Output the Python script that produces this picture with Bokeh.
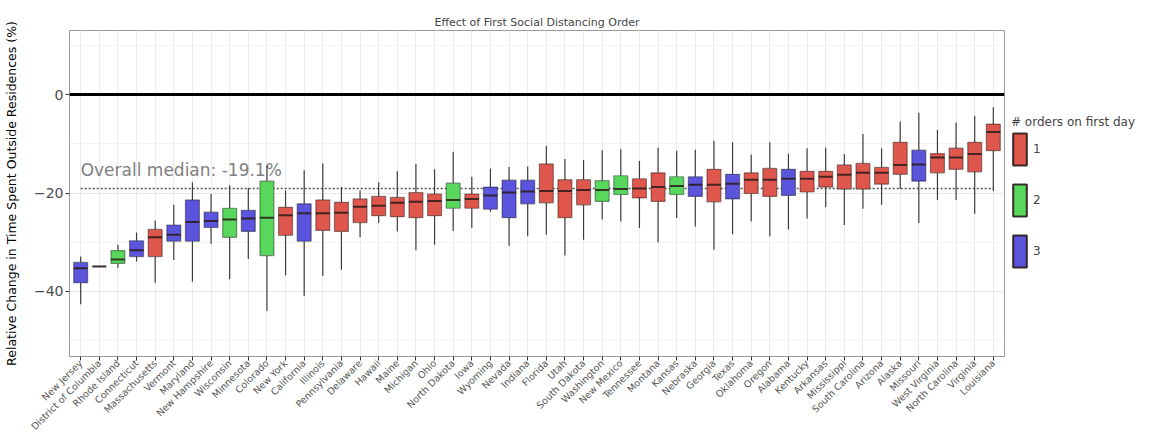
from math import pi
from bokeh.plotting import figure
from bokeh.models import (ColumnDataSource, FactorRange, Range1d, Span, Legend, LegendItem,
                          FixedTicker, Title)
from bokeh.core.properties import value
from bokeh.embed import file_html
from bokeh.resources import INLINE

FONT = "DejaVu Sans"

states = ["New Jersey", "District of Columbia", "Rhode Island", "Connecticut", "Massachusetts",
          "Vermont", "Maryland", "New Hampshire", "Wisconsin", "Minnesota", "Colorado",
          "New York", "California", "Illinois", "Pennsylvania", "Delaware", "Hawaii", "Maine",
          "Michigan", "Ohio", "North Dakota", "Iowa", "Wyoming", "Nevada", "Indiana", "Florida",
          "Utah", "South Dakota", "Washington", "New Mexico", "Tennessee", "Montana", "Kansas",
          "Nebraska", "Georgia", "Texas", "Oklahoma", "Oregon", "Alabama", "Kentucky",
          "Arkansas", "Mississippi", "South Carolina", "Arizona", "Alaska", "Missouri",
          "West Virginia", "North Carolina", "Virginia", "Louisiana"]

orders = ["3", "1", "2", "3", "1", "3", "3", "3", "2", "3", "2", "1", "3", "1", "1", "1", "1", "1",
          "1", "1", "2", "1", "3", "3", "3", "1", "1", "1", "2", "2", "1", "1", "2", "3", "1", "3",
          "1", "1", "3", "1", "1", "1", "1", "1", "1", "3", "1", "1", "1", "1"]

whisker_low = [-42.6, -34.9, -35.2, -33.9, -38.2, -33.6, -38.0, -30.3, -37.5, -33.4, -43.9,
               -36.7, -40.9, -36.8, -35.6, -29.0, -26.1, -27.8, -31.6, -30.5, -27.7, -27.1,
               -23.8, -30.7, -28.8, -28.5, -32.7, -29.5, -25.4, -25.8, -27.1, -30.0, -25.1,
               -26.8, -31.5, -28.4, -25.8, -28.8, -27.4, -25.2, -22.9, -26.5, -23.2, -22.4,
               -19.2, -26.1, -21.4, -21.4, -24.2, -19.6]
q1 = [-38.2, -34.9, -34.3, -32.9, -32.9, -29.8, -29.8, -27.0, -29.0, -27.8, -32.7,
      -28.6, -29.8, -27.6, -27.8, -26.0, -24.6, -24.8, -25.0, -24.6, -23.1, -23.1,
      -23.3, -25.0, -22.2, -22.0, -25.0, -22.4, -21.7, -20.3, -21.0, -21.7, -20.3,
      -20.7, -21.8, -21.2, -20.1, -20.7, -20.5, -19.8, -18.8, -19.2, -19.2, -18.2,
      -16.2, -17.6, -15.9, -15.2, -15.7, -11.4]
median = [-35.3, -34.9, -33.5, -31.6, -29.0, -28.5, -25.9, -25.7, -25.4, -25.2, -25.0,
          -24.5, -24.1, -24.1, -24.0, -22.8, -22.6, -22.0, -21.8, -21.6, -21.4, -21.2,
          -20.5, -19.9, -19.7, -19.6, -19.6, -19.4, -19.4, -19.2, -19.1, -18.8, -18.6,
          -18.3, -18.3, -18.1, -17.3, -17.3, -17.1, -17.1, -16.7, -16.3, -15.9, -15.9,
          -14.3, -14.2, -12.8, -12.8, -12.1, -7.6]
q3 = [-34.1, -34.9, -31.7, -29.7, -27.4, -26.5, -21.4, -23.9, -23.1, -23.5, -17.6,
      -22.9, -22.2, -21.4, -21.9, -21.2, -20.7, -20.9, -19.9, -20.2, -18.0, -20.2,
      -18.8, -17.4, -17.4, -14.1, -17.3, -17.3, -17.5, -16.5, -17.1, -15.9, -16.7,
      -16.7, -15.2, -16.2, -15.9, -15.0, -15.2, -15.6, -15.6, -14.3, -14.0, -14.8,
      -9.7, -11.3, -12.0, -10.9, -9.7, -6.0]
whisker_high = [-32.9, -34.9, -30.5, -28.0, -25.6, -22.4, -17.8, -20.2, -18.4, -19.0, -14.4,
                -19.5, -15.4, -14.0, -18.8, -19.5, -17.8, -15.6, -14.1, -15.2, -11.6, -16.7,
                -15.0, -14.7, -14.6, -10.4, -13.1, -13.3, -11.3, -11.1, -13.5, -10.8, -11.4,
                -11.2, -9.4, -9.7, -12.2, -9.7, -12.0, -10.9, -10.8, -12.1, -8.0, -10.9,
                -5.5, -3.7, -7.2, -5.7, -4.3, -2.6]

overall_median = -19.1
order_levels = ["1", "2", "3"]
order_colors = ["#DF574C", "#57D75C", "#5B54DC"]
y_ticks = [-40, -20, 0]
y_tick_labels = ["\u221240", "\u221220", "0"]
y_minor_ticks = [-50, -30, -10, 10]

colors = [order_colors[order_levels.index(o)] for o in orders]
src = ColumnDataSource(dict(state=states, orders=orders, wl=whisker_low, q1=q1, med=median,
                            q3=q3, wh=whisker_high, color=colors))

p = figure(x_range=FactorRange(*states, range_padding=0.1, range_padding_units="absolute"),
           y_range=Range1d(-53.2, 13.0),
           frame_width=935, frame_height=326, output_backend="svg", toolbar_location=None,
           background_fill_color="white", border_fill_color="white")

# titles: real title closest to the frame, a small blank spacer above it
p.title_location = None
p.add_layout(Title(text="Effect of First Social Distancing Order", text_font=FONT,
                   text_font_size="11px", text_font_style="normal", align="center",
                   offset=-16, standoff=4), "above")
p.add_layout(Title(text=" ", text_font_size="7.5px", standoff=0), "above")

p.outline_line_color = "#9a9a9a"
p.outline_line_width = 1

# grids
p.xgrid.grid_line_color = "#ebebeb"
p.ygrid.ticker = FixedTicker(ticks=y_ticks, minor_ticks=y_minor_ticks)
p.ygrid.grid_line_color = "#e6e6e6"
p.ygrid.minor_grid_line_color = "#f3f3f3"

# axes
p.yaxis.ticker = FixedTicker(ticks=y_ticks, minor_ticks=y_minor_ticks)
p.yaxis.major_label_overrides = {t: l for t, l in zip(y_ticks, y_tick_labels)}
p.yaxis.axis_label = "Relative Change in Time Spent Outside Residences (%)"
p.yaxis.axis_label_text_font = FONT
p.yaxis.axis_label_text_font_size = "12.5px"
p.yaxis.axis_label_text_font_style = "normal"
p.yaxis.axis_label_text_color = "black"
p.yaxis.axis_label_standoff = 12
p.yaxis.major_label_text_font = FONT
p.yaxis.major_label_text_font_size = "14px"
p.yaxis.major_label_text_color = "#4d4d4d"
p.yaxis.major_label_standoff = 2
p.yaxis.minor_tick_line_color = None
p.yaxis.major_tick_in = 0
p.yaxis.major_tick_out = 4
p.yaxis.major_tick_line_color = "#333333"
p.yaxis.axis_line_color = None

p.xaxis.major_label_orientation = pi / 4
p.xaxis.major_label_text_font = FONT
p.xaxis.major_label_text_font_size = "9.5px"
p.xaxis.major_label_text_color = "#555555"
p.xaxis.major_label_standoff = 1
p.xaxis.major_tick_in = 0
p.xaxis.major_tick_out = 4
p.xaxis.major_tick_line_color = "#333333"
p.xaxis.axis_line_color = None

# zero line
p.add_layout(Span(location=0, dimension="width", line_color="black", line_width=3))

# overall median dotted line and label
p.segment(x0=[states[0]], x1=[states[-1]], y0=[overall_median], y1=[overall_median],
          line_color="#555555", line_width=1.5, line_dash="2 2")
p.text(x=[states[0]], y=[overall_median + 3.8], text=[f"Overall median: {overall_median}%"],
       text_font=value(FONT), text_font_size="17px", text_color="#808080",
       text_align="left", text_baseline="alphabetic")

# whiskers
p.segment(x0="state", x1="state", y0="wl", y1="q1", source=src, line_color="#3c3c3c",
          line_width=1.2)
p.segment(x0="state", x1="state", y0="q3", y1="wh", source=src, line_color="#3c3c3c",
          line_width=1.2)

# boxes
box_r = p.vbar(x="state", width=0.75, bottom="q1", top="q3", source=src,
               fill_color="color", line_color="black", line_alpha=0.4, line_width=1.2)
med_line = p.vbar(x="state", width=0.75, bottom="med", top="med", source=src,
                  fill_alpha=0, line_color="#2a1a1a", line_alpha=0.85, line_width=2)

items = []
for lvl in order_levels:
    idx = orders.index(lvl)
    items.append(LegendItem(label=lvl, renderers=[box_r, med_line], index=idx))

legend = Legend(items=items, title="# orders on first day", location="center_left",
                orientation="vertical", margin=7, padding=0,
                glyph_height=40, glyph_width=17, spacing=11, label_standoff=5,
                title_text_font=FONT, title_text_font_size="12px", title_text_font_style="normal",
                title_standoff=0, label_text_font=FONT, label_text_font_size="12px",
                background_fill_alpha=0, border_line_color=None)
p.add_layout(legend, "right")

open("out.html", "w").write(file_html(p, INLINE))
